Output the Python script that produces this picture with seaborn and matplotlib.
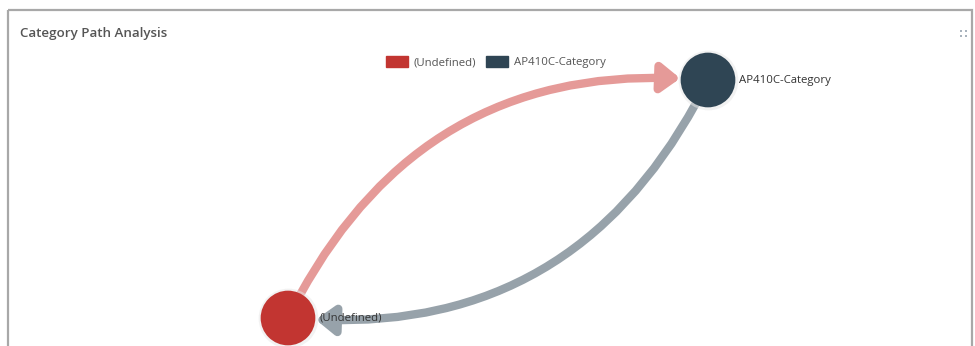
import matplotlib
matplotlib.use("Agg")
import matplotlib.pyplot as plt
from matplotlib.patches import FancyArrowPatch, Patch, Rectangle
import seaborn as sns
import pandas as pd

# nodes of the path graph
nodes = ["(Undefined)", "AP410C-Category"]
node_x = [288, 708]
node_y = [318, 80]
node_colors = ["#c23531", "#2f4554"]

# edges: source -> target
edge_src = ["(Undefined)", "AP410C-Category"]
edge_dst = ["AP410C-Category", "(Undefined)"]
edge_colors = ["#e59a98", "#97a2aa"]

title = "Category Path Analysis"

sns.set_style("white")
plt.rcParams['font.family'] = ['Open Sans', 'DejaVu Sans']

fig = plt.figure(figsize=(9.75, 3.46), dpi=100)
ax = fig.add_axes([0, 0, 1, 1])

# panel frame
ax.add_patch(Rectangle((8, 10), 964, 350, fill=False, edgecolor="#a8a8a8", lw=1.6))
ax.text(20, 33, title, fontsize=9.6, color="#555555", fontweight="semibold", va="center")
# little expand icon (four dots)
ax.scatter([961, 966, 961, 966], [31, 31, 36, 36], s=3, marker="s", color="#a9b3bd", linewidths=0)

df = pd.DataFrame({"name": nodes, "x": node_x, "y": node_y})
pos = {n: (x, y) for n, x, y in zip(nodes, node_x, node_y)}

# edges
for s, d, c in zip(edge_src, edge_dst, edge_colors):
    arr = FancyArrowPatch(pos[s], pos[d], connectionstyle="arc3,rad=-0.34",
                          arrowstyle="-|>,head_length=0.5,head_width=0.38",
                          mutation_scale=22, lw=6, color=c,
                          shrinkA=19, shrinkB=20, zorder=2)
    ax.add_patch(arr)

# soft glow behind nodes
sns.scatterplot(data=df, x="x", y="y", s=1850, color="#e6e6e6", alpha=0.5,
                linewidth=0, legend=False, ax=ax, zorder=3)
sns.scatterplot(data=df, x="x", y="y", hue="name", palette=node_colors, s=1550,
                linewidth=0, legend=False, ax=ax, zorder=4)
ax.set_xlim(0, 975)
ax.set_ylim(346, 0)
ax.axis("off")

# node labels
for n, x, y in zip(nodes, node_x, node_y):
    ax.text(x + 31, y, n, fontsize=8.2,
            color="#333333", va="center", ha="left", zorder=5)

handles = [Patch(facecolor=c, edgecolor=c, label=n) for n, c in zip(nodes, node_colors)]
ax.legend(handles=handles, loc="center", bbox_to_anchor=(496 / 975, 1 - 62 / 346),
          ncol=2, frameon=False, fontsize=8.2, handlelength=1.9, handleheight=1.1,
          columnspacing=0.9, handletextpad=0.5, labelcolor="#555555")

fig.savefig("out.png", dpi=100)
